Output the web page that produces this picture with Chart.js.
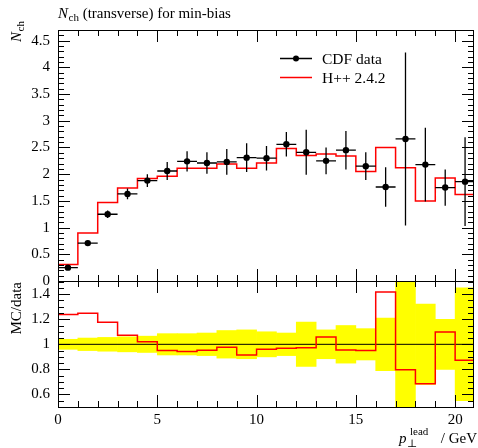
<!DOCTYPE html>
<html>
<head>
<meta charset="utf-8">
<script src="https://cdn.jsdelivr.net/npm/chart.js@4.4.0/dist/chart.umd.min.js"></script>
<style>
  html, body { margin: 0; padding: 0; background: #fff; }
</style>
</head>
<body>
<canvas id="chart" width="478" height="448"></canvas>
<script>
// bins of leading-track pT, 1 GeV wide
const binCenters = [0.5, 1.5, 2.5, 3.5, 4.5, 5.5, 6.5, 7.5, 8.5, 9.5, 10.5,
                    11.5, 12.5, 13.5, 14.5, 15.5, 16.5, 17.5, 18.5, 19.5, 20.5];
const cdfValues = [0.25, 0.71, 1.25, 1.63, 1.88, 2.06, 2.24, 2.21, 2.23, 2.31, 2.30,
                   2.56, 2.41, 2.25, 2.45, 2.15, 1.76, 2.66, 2.18, 1.75, 1.86];
const cdfErrors = [0.01, 0.035, 0.07, 0.10, 0.12, 0.17, 0.19, 0.20, 0.24, 0.27, 0.23,
                   0.23, 0.42, 0.25, 0.36, 0.26, 0.37, 1.62, 0.69, 0.34, 0.83];
const mcValues = [0.31, 0.90, 1.47, 1.74, 1.92, 1.96, 2.11, 2.11, 2.19, 2.11, 2.21,
                  2.48, 2.35, 2.38, 2.34, 2.05, 2.50, 2.12, 1.50, 1.93, 1.62];
const ratioValues = [1.237, 1.247, 1.175, 1.072, 1.021, 0.95, 0.942, 0.952, 0.976, 0.915, 0.96,
                     0.968, 0.973, 1.058, 0.955, 0.95, 1.417, 0.798, 0.686, 1.098, 0.872];
const bandHalfWidths = [0.04, 0.05, 0.055, 0.06, 0.065, 0.085, 0.085, 0.09, 0.11, 0.115, 0.10,
                        0.09, 0.177, 0.115, 0.15, 0.125, 0.21, 0.6, 0.32, 0.20, 0.45];
const xTickLabels = [0, 5, 10, 15, 20];
const yTickLabels = [0, 0.5, 1, 1.5, 2, 2.5, 3, 3.5, 4, 4.5];
const ratioTickLabels = [0.6, 0.8, 1, 1.2, 1.4];

const FONT = "'Liberation Serif', 'DejaVu Serif', serif";
Chart.defaults.font.family = FONT;
Chart.defaults.font.size = 15;
Chart.defaults.color = '#000';

const histSteps = vals => binCenters.map((c, i) => ({ x: c - 0.5, y: vals[i] }))
  .concat([{ x: binCenters[binCenters.length - 1] + 0.5, y: vals[vals.length - 1] }]);

const fmt = v => String(+(+v).toFixed(2));

// error bars under the data points
const errorBars = {
  id: 'errorBars',
  beforeDatasetDraw(chart, args) {
    if (args.index !== 0) return;
    const { ctx, chartArea } = chart;
    const xs = chart.scales.x, ys = chart.scales.y;
    ctx.save();
    ctx.beginPath();
    ctx.rect(chartArea.left, ys.top, chartArea.right - chartArea.left, ys.bottom - ys.top);
    ctx.clip();
    ctx.strokeStyle = '#000';
    ctx.lineWidth = 1.3;
    binCenters.forEach((c, i) => {
      const px = xs.getPixelForValue(c), py = ys.getPixelForValue(cdfValues[i]);
      ctx.beginPath();
      ctx.moveTo(xs.getPixelForValue(c - 0.5), py);
      ctx.lineTo(xs.getPixelForValue(c + 0.5), py);
      ctx.moveTo(px, ys.getPixelForValue(cdfValues[i] - cdfErrors[i]));
      ctx.lineTo(px, ys.getPixelForValue(cdfValues[i] + cdfErrors[i]));
      ctx.stroke();
    });
    ctx.restore();
  }
};

function panelFrame(ctx, area, xs, ys, step, majorEvery) {
  const left = area.left, right = area.right, top = ys.top, bottom = ys.bottom;
  ctx.strokeStyle = '#000';
  ctx.lineWidth = 1;
  ctx.strokeRect(left + 0.5, Math.round(top) + 0.5, right - left - 1, Math.round(bottom - top));
  ctx.beginPath();
  for (let k = 0; k <= Math.floor(xs.max); k++) {
    const px = Math.round(xs.getPixelForValue(k)) + 0.5;
    const len = k % 5 === 0 ? 12 : 6;
    ctx.moveTo(px, top); ctx.lineTo(px, top + len);
    ctx.moveTo(px, bottom); ctx.lineTo(px, bottom - len);
  }
  const kmin = Math.ceil(ys.min / step - 1e-9), kmax = Math.floor(ys.max / step + 1e-9);
  for (let k = kmin; k <= kmax; k++) {
    const py = Math.round(ys.getPixelForValue(k * step)) + 0.5;
    const len = k % majorEvery === 0 ? 12 : 6;
    ctx.moveTo(left, py); ctx.lineTo(left + len, py);
    ctx.moveTo(right, py); ctx.lineTo(right - len, py);
  }
  ctx.stroke();
}

const decorations = {
  id: 'decorations',
  afterDraw(chart) {
    const { ctx, chartArea } = chart;
    const xs = chart.scales.x;
    ctx.save();
    panelFrame(ctx, chartArea, xs, chart.scales.y, 0.1, 5);
    panelFrame(ctx, chartArea, xs, chart.scales.yr, 0.05, 4);

    ctx.fillStyle = '#000';
    ctx.textBaseline = 'alphabetic';
    ctx.textAlign = 'left';

    // title
    let x = 58;
    ctx.font = 'italic 15px ' + FONT;
    ctx.fillText('N', x, 18);
    x += ctx.measureText('N').width + 0.5;
    ctx.font = '11px ' + FONT;
    ctx.fillText('ch', x, 21);
    x += ctx.measureText('ch').width;
    ctx.font = '15px ' + FONT;
    ctx.fillText(' (transverse) for min-bias', x, 18);

    // y titles
    ctx.save();
    ctx.translate(21, 21);
    ctx.rotate(-Math.PI / 2);
    ctx.textAlign = 'right';
    ctx.font = '11px ' + FONT;
    const chW = ctx.measureText('ch').width;
    ctx.fillText('ch', 0, 3);
    ctx.font = 'italic 15px ' + FONT;
    ctx.fillText('N', -chW - 0.5, 0);
    ctx.restore();

    ctx.save();
    ctx.translate(21, 282);
    ctx.rotate(-Math.PI / 2);
    ctx.textAlign = 'right';
    ctx.font = '15px ' + FONT;
    ctx.fillText('MC/data', 0, 0);
    ctx.restore();

    // x title
    ctx.font = 'italic 15px ' + FONT;
    ctx.fillText('p', 399, 443);
    ctx.font = '11px ' + FONT;
    ctx.fillText('\u22A5', 407, 447);
    ctx.fillText('lead', 410, 435);
    ctx.textAlign = 'right';
    ctx.font = '15px ' + FONT;
    ctx.fillText('/ GeV', 477, 443);

    // legend
    ctx.textAlign = 'left';
    ctx.lineWidth = 1.5;
    ctx.strokeStyle = '#000';
    ctx.beginPath();
    ctx.moveTo(280, 58.5); ctx.lineTo(312, 58.5);
    ctx.stroke();
    ctx.beginPath();
    ctx.arc(296, 58.5, 3, 0, Math.PI * 2);
    ctx.fill();
    ctx.strokeStyle = '#ff0000';
    ctx.beginPath();
    ctx.moveTo(280, 77.5); ctx.lineTo(312, 77.5);
    ctx.stroke();
    ctx.font = '15.5px ' + FONT;
    ctx.fillText('CDF data', 322, 64);
    ctx.fillText('H++ 2.4.2', 322, 82.5);
    ctx.restore();
  }
};

const yAxisCommon = {
  type: 'linear',
  position: 'left',
  stack: 'panels',
  grid: { display: false, drawTicks: false },
  border: { display: false },
  afterFit: s => { s.width = 58; }
};

new Chart(document.getElementById('chart'), {
  type: 'scatter',
  data: {
    datasets: [
      {
        type: 'scatter',
        label: 'CDF data',
        data: binCenters.map((c, i) => ({ x: c, y: cdfValues[i] })),
        yAxisID: 'y',
        pointRadius: 3.2,
        pointBackgroundColor: '#000',
        pointBorderWidth: 0
      },
      {
        type: 'line',
        label: 'H++ 2.4.2',
        data: histSteps(mcValues),
        yAxisID: 'y',
        stepped: true,
        borderColor: '#ff0000',
        borderWidth: 1.5,
        pointRadius: 0,
        fill: false
      },
      {
        type: 'line',
        data: histSteps(ratioValues),
        yAxisID: 'yr',
        stepped: true,
        borderColor: '#ff0000',
        borderWidth: 1.5,
        pointRadius: 0,
        fill: false
      },
      {
        type: 'line',
        data: [{ x: 0, y: 1 }, { x: 21, y: 1 }],
        yAxisID: 'yr',
        borderColor: '#000',
        borderWidth: 1,
        pointRadius: 0,
        fill: false
      },
      {
        type: 'bar',
        data: binCenters.map((c, i) => ({ x: c, y: [1 - bandHalfWidths[i], 1 + bandHalfWidths[i]] })),
        yAxisID: 'yr',
        backgroundColor: '#ffff00',
        borderWidth: 0,
        barPercentage: 1,
        categoryPercentage: 1,
        grouped: false
      }
    ]
  },
  options: {
    responsive: false,
    animation: false,
    events: [],
    layout: { padding: { top: 30, right: 1, left: 0, bottom: 0 } },
    plugins: { legend: { display: false }, tooltip: { enabled: false } },
    scales: {
      x: {
        type: 'linear',
        min: 0,
        max: 20.95,
        offset: false,
        grid: { display: false, drawTicks: false, offset: false },
        border: { display: false },
        afterBuildTicks: s => { s.ticks = xTickLabels.map(v => ({ value: v })); },
        ticks: { padding: 4, maxRotation: 0, autoSkip: false, callback: fmt },
        afterFit: s => { s.height = 41; }
      },
      yr: Object.assign({}, yAxisCommon, {
        min: 0.5,
        max: 1.505,
        stackWeight: 126,
        afterBuildTicks: s => { s.ticks = ratioTickLabels.map(v => ({ value: v })); },
        ticks: { padding: 8, autoSkip: false, callback: fmt }
      }),
      y: Object.assign({}, yAxisCommon, {
        min: 0,
        max: 4.70,
        stackWeight: 251,
        afterBuildTicks: s => { s.ticks = yTickLabels.map(v => ({ value: v })); },
        ticks: { padding: 8, autoSkip: false, callback: fmt }
      })
    }
  },
  plugins: [errorBars, decorations]
});
</script>
</body>
</html>
